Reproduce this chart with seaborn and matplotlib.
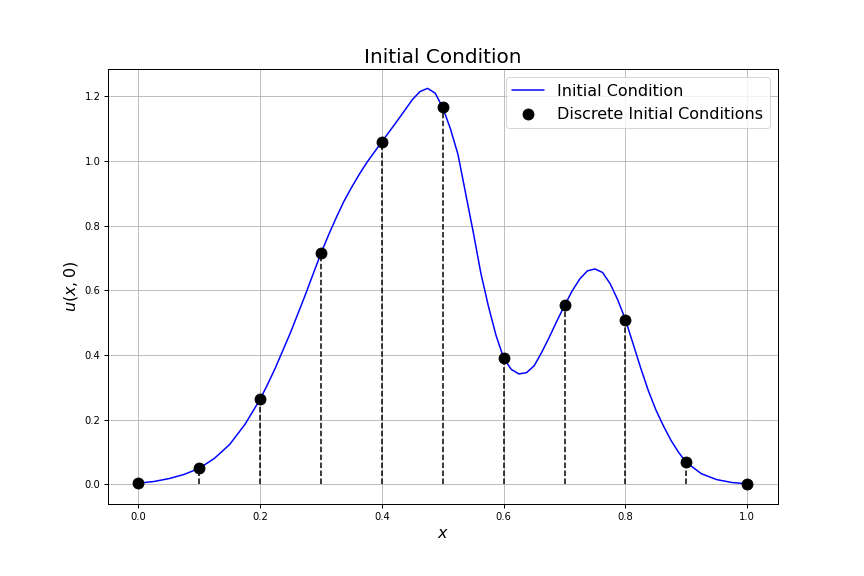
import numpy as np
import pandas as pd
import matplotlib
matplotlib.use("Agg")
import matplotlib.pyplot as plt
import seaborn as sns

# continuous initial condition
x_curve = [0.0, 0.025, 0.05, 0.075, 0.1, 0.125, 0.15, 0.175, 0.2, 0.2125,
           0.225, 0.2375, 0.25, 0.2625, 0.275, 0.2875, 0.3, 0.3125, 0.325, 0.3375,
           0.35, 0.3625, 0.375, 0.4, 0.425, 0.45, 0.4625, 0.475, 0.4875, 0.5,
           0.5125, 0.525, 0.5375, 0.55, 0.5625, 0.575, 0.5875, 0.6, 0.6125, 0.625,
           0.6375, 0.65, 0.6625, 0.675, 0.6875, 0.7, 0.7125, 0.725, 0.7375, 0.75,
           0.7625, 0.775, 0.7875, 0.8, 0.8125, 0.825, 0.8375, 0.85, 0.8625, 0.875,
           0.8875, 0.9, 0.925, 0.95, 0.975, 1.0]
u_curve = [0.003, 0.008, 0.017, 0.03, 0.049, 0.08, 0.123, 0.185, 0.263, 0.31,
           0.36, 0.415, 0.47, 0.53, 0.59, 0.653, 0.715, 0.772, 0.825, 0.875,
           0.918, 0.958, 0.995, 1.06, 1.124, 1.19, 1.215, 1.225, 1.21, 1.165,
           1.1, 1.02, 0.9, 0.78, 0.653, 0.55, 0.46, 0.39, 0.355, 0.341,
           0.345, 0.366, 0.408, 0.455, 0.505, 0.553, 0.598, 0.635, 0.66, 0.666,
           0.655, 0.62, 0.57, 0.509, 0.435, 0.36, 0.29, 0.23, 0.18, 0.135,
           0.098, 0.067, 0.032, 0.014, 0.005, 0.001]

# discrete samples
x_disc = [0.0, 0.1, 0.2, 0.3, 0.4, 0.5, 0.6, 0.7, 0.8, 0.9, 1.0]
u_disc = [0.003, 0.049, 0.264, 0.715, 1.06, 1.166, 0.391, 0.554, 0.509, 0.067, 0.0]

curve = pd.DataFrame({"x": x_curve, "u": u_curve})
disc = pd.DataFrame({"x": x_disc, "u": u_disc})

sns.set_style("white")
plt.rcParams["text.color"] = "black"
plt.rcParams["axes.labelcolor"] = "black"
fig, ax = plt.subplots(figsize=(12, 8), dpi=72)
fig.subplots_adjust(left=0.125, right=0.9, top=0.88, bottom=0.125)

sns.lineplot(data=curve, x="x", y="u", ax=ax, color="blue", linewidth=1.5,
             label="Initial Condition", zorder=2)
ax.vlines(disc["x"], 0, disc["u"], colors="black", linestyles="--",
          linewidth=1.5, zorder=1)
sns.scatterplot(data=disc, x="x", y="u", ax=ax, color="black", s=120,
                edgecolor="black", label="Discrete Initial Conditions", zorder=3)

ax.grid(True, color="#b0b0b0", linewidth=0.8)
for sp in ax.spines.values():
    sp.set_color("black")
    sp.set_linewidth(1.0)
ax.tick_params(axis="both", direction="out", length=4, width=1, colors="black",
               labelsize=10, left=True, bottom=True)

ax.set_xticks([0.0, 0.2, 0.4, 0.6, 0.8, 1.0])
ax.set_yticks([0.0, 0.2, 0.4, 0.6, 0.8, 1.0, 1.2])
ax.set_xlim(-0.05, 1.05)
ax.set_ylim(-0.0615, 1.2845)

ax.set_title("Initial Condition", fontsize=20, color="black")
ax.set_xlabel("$x$", fontsize=16)
ax.set_ylabel("$u(x, 0)$", fontsize=16)
ax.legend(loc="upper right", fontsize=16)

fig.savefig("out.png", dpi=72)
